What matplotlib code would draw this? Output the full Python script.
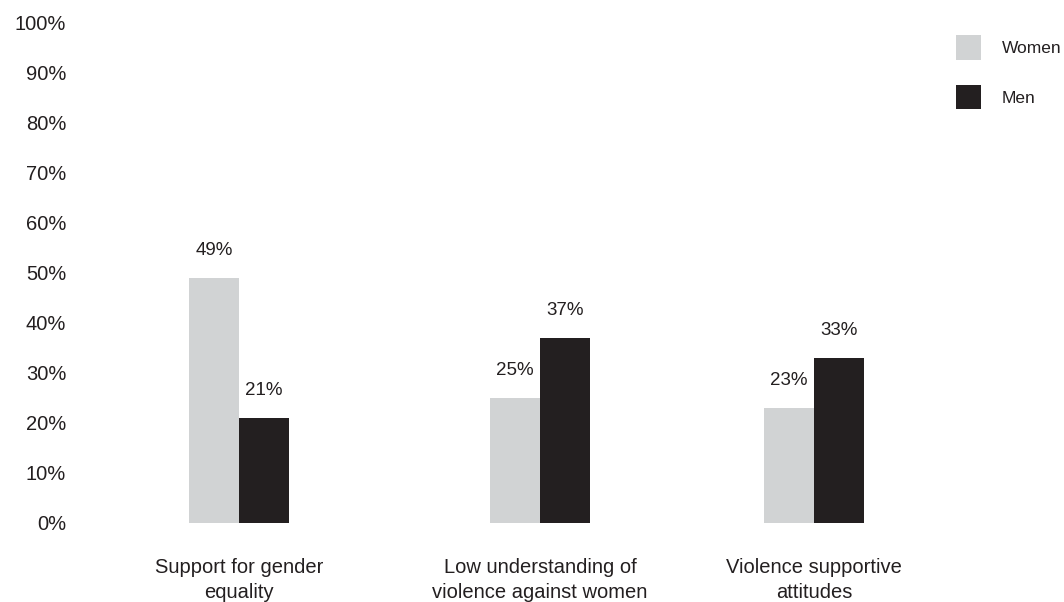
import matplotlib
matplotlib.use("Agg")
import matplotlib.pyplot as plt

categories = ["Support for gender\nequality",
              "Low understanding of\nviolence against women",
              "Violence supportive\nattitudes"]
women = [49, 25, 23]
men = [21, 37, 33]
y_ticks = [0, 10, 20, 30, 40, 50, 60, 70, 80, 90, 100]

# layout (group centres, in units of 100 px from axes left)
centres = [1.59, 4.60, 7.34]
bar_w = 0.5
women_color = "#d1d3d4"
men_color = "#231f20"
text_color = "#231f20"

plt.rcParams["font.family"] = ["Liberation Sans", "DejaVu Sans"]

fig = plt.figure(figsize=(10.64, 6.02), dpi=100)
ax = fig.add_axes([80 / 1064, 79 / 602, 860 / 1064, 500 / 602])

xw = [c - bar_w / 2 for c in centres]
xm = [c + bar_w / 2 for c in centres]
bw = ax.bar(xw, women, width=bar_w, color=women_color, label="Women")
bm = ax.bar(xm, men, width=bar_w, color=men_color, label="Men")

for bars, vals in ((bw, women), (bm, men)):
    for b, v in zip(bars, vals):
        ax.annotate(f"{v}%", (b.get_x() + b.get_width() / 2, v),
                    xytext=(0, 20), textcoords="offset points",
                    ha="center", va="center", fontsize=13.5, color=text_color)

ax.set_xlim(0, 8.6)
ax.set_ylim(0, 100)
ax.set_yticks(y_ticks)
ax.set_yticklabels([f"{t}%" for t in y_ticks], fontsize=14.5, color=text_color)
ax.set_xticks(centres)
ax.set_xticklabels(categories, fontsize=14.5, color=text_color, linespacing=1.4)
ax.tick_params(axis="y", length=0, pad=10)
ax.tick_params(axis="x", length=0, pad=25)
for s in ax.spines.values():
    s.set_visible(False)

fig.legend(handles=[bw, bm], labels=["Women", "Men"],
           loc="upper left", bbox_to_anchor=(956 / 1064, 1 - 35 / 602),
           frameon=False, fontsize=12.5, borderpad=0, borderaxespad=0,
           handlelength=1.44, handleheight=1.8, labelspacing=1.45,
           handletextpad=1.2, labelcolor=text_color)

fig.savefig("out.png", dpi=100)
